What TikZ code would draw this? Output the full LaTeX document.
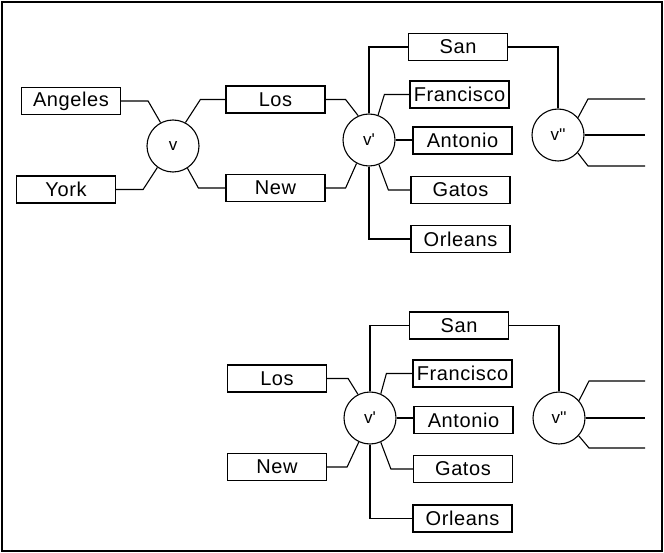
\documentclass[tikz,border=0pt]{standalone}
\usepackage{fontspec}
\newfontfamily\lbl{Liberation Sans}[LetterSpace=3]
\begin{document}
\begin{tikzpicture}[x=1pt,y=-1pt,
  box/.style={draw,line width=1.2pt,minimum width=99pt,minimum height=27pt,inner sep=0pt,font=\lbl\fontsize{20}{23}\selectfont},
  vert/.style={draw,circle,line width=1.1pt,minimum size=52pt,inner sep=0pt,font=\lbl\fontsize{17}{20}\selectfont},
  conn/.style={line width=1.1pt}]
\useasboundingbox (0,0) rectangle (664,553);
\draw[line width=2pt] (2,2) rectangle (662,551);
% top part
\node[box] (ang) at (71,101) {Angeles};
\node[box] (york) at (66,189.5) {York};
\node[vert] (v) at (173,146) {v};
\node[box] (los1) at (275.5,99.5) {Los};
\node[box] (new1) at (275.5,188) {New};
\node[vert] (vp1) at (369,140) {v\textquotesingle};
\node[box] (san1) at (458,47) {San};
\node[box] (fra1) at (459.5,94.5) {Francisco};
\node[box] (ant1) at (462.5,140.5) {Antonio};
\node[box] (gat1) at (460.5,190) {Gatos};
\node[box] (orl1) at (460.5,239) {Orleans};
\node[vert] (vpp1) at (558,135) {v\textquotesingle\textquotesingle};
\coordinate (o1a) at (645,99);
\coordinate (o1b) at (645,135);
\coordinate (o1c) at (645,166);
\draw[conn] (ang.east) -- ++(27,0) -- (v.118);
\draw[conn] (york.east) -- ++(27,0) -- (v.234);
\draw[conn] (v.62) -- ([xshift=-25pt]los1.west) -- (los1.west);
\draw[conn] (v.303) -- ([xshift=-27pt]new1.west) -- (new1.west);
\draw[conn] (los1.east) -- ++(20,0) -- (vp1.114);
\draw[conn] (new1.east) -- ++(20,0) -- (vp1.242);
\draw[conn] (vp1.north) |- (san1.west);
\draw[conn] (vp1.70) -- ([xshift=-25pt]fra1.west) -- (fra1.west);
\draw[conn] (vp1.east) -- (vp1.east -| ant1.west);
\draw[conn] (vp1.292) -- ([xshift=-22pt]gat1.west) -- (gat1.west);
\draw[conn] (vp1.south) |- (orl1.west);
\draw[conn] (san1.east) -| (vpp1.north);
\draw[conn] (vpp1.41) -- (o1a -| 588,0) -- (o1a);
\draw[conn] (vpp1.east) -- (o1b);
\draw[conn] (vpp1.-42) -- (o1c -| 588,0) -- (o1c);
% bottom part
\node[box] (los2) at (277,378.5) {Los};
\node[box] (new2) at (277,467) {New};
\node[vert] (vp2) at (370,418) {v\textquotesingle};
\node[box] (san2) at (459,325.5) {San};
\node[box] (fra2) at (462.5,373.5) {Francisco};
\node[box] (ant2) at (463.5,420) {Antonio};
\node[box] (gat2) at (463,469) {Gatos};
\node[box] (orl2) at (462.5,518.5) {Orleans};
\node[vert] (vpp2) at (559,418) {v\textquotesingle\textquotesingle};
\coordinate (o2a) at (645,381);
\coordinate (o2b) at (645,418);
\coordinate (o2c) at (645,448);
\draw[conn] (los2.east) -- ++(21,0) -- (vp2.117);
\draw[conn] (new2.east) -- ++(20,0) -- (vp2.245);
\draw[conn] (vp2.north) |- (san2.west);
\draw[conn] (vp2.66) -- ([xshift=-26pt]fra2.west) -- (fra2.west);
\draw[conn] (vp2.east) -- (vp2.east -| ant2.west);
\draw[conn] (vp2.294) -- ([xshift=-22pt]gat2.west) -- (gat2.west);
\draw[conn] (vp2.south) |- (orl2.west);
\draw[conn] (san2.east) -| (vpp2.north);
\draw[conn] (vpp2.41) -- (o2a -| 589,0) -- (o2a);
\draw[conn] (vpp2.east) -- (o2b);
\draw[conn] (vpp2.-42) -- (o2c -| 589,0) -- (o2c);
\end{tikzpicture}
\end{document}
